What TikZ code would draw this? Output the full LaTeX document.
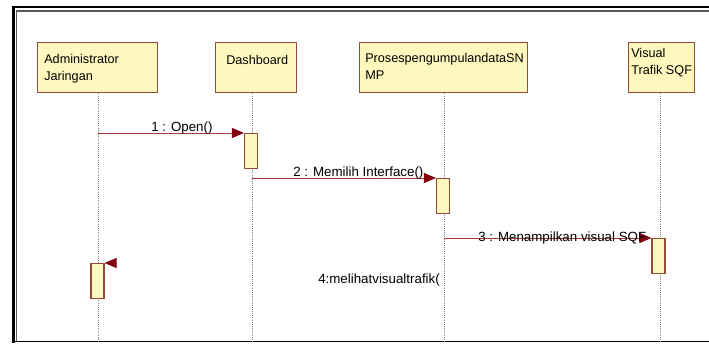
\documentclass[tikz,border=0pt]{standalone}
\usepackage{fontspec}
\setmainfont{Liberation Sans}
\usetikzlibrary{arrows.meta}
\definecolor{boxfill}{RGB}{255,248,190}
\definecolor{boxedge}{RGB}{150,75,55}
\definecolor{msgline}{RGB}{175,55,55}
\definecolor{msghead}{RGB}{130,0,15}
\tikzset{
  headbox/.style={draw=boxedge,fill=boxfill,line width=1.1pt,anchor=north west,inner sep=0pt,minimum height=37.5pt},
  headtext/.style={anchor=north west,inner sep=0pt,align=left,font=\fontsize{9.5}{12.75}\selectfont},
  actbox/.style={draw=boxedge,fill=boxfill,line width=0.9pt,anchor=north,inner sep=0pt,minimum width=9.75pt,minimum height=26.25pt},
  lifeline/.style={draw=gray,densely dotted,line width=0.6pt},
  msg/.style={draw=msgline,line width=0.7pt,-{Triangle[length=9pt,width=7.5pt,color=msghead,fill=msghead]}},
  msgtext/.style={anchor=base west,inner sep=0pt,font=\fontsize{10}{12}\selectfont}
}
\begin{document}
\begin{tikzpicture}[x=0.75pt,y=0.75pt,yscale=-1,xscale=1]
    \useasboundingbox (0,0) rectangle (709,343);
    % frame
    \draw[line width=2.2pt] (13.5,343) -- (13.5,7) -- (709,7);
    \draw[line width=0.8pt,gray!70!black] (16.5,341) -- (16.5,11) -- (709,11);
    \draw[line width=1.2pt] (12,341.5) -- (709,341.5);
    % lifeline heads
    \node[headbox,minimum width=90pt] (admin) at (37,42) {};
    \node[headbox,minimum width=60.75pt] (dash) at (215,42) {};
    \node[headbox,minimum width=126pt] (proses) at (359,42) {};
    \node[headbox,minimum width=49.5pt] (visual) at (628,42) {};
    \node[headtext] (admin-txt) at (44,54) {Administrator\\Jaringan};
    \node[headtext] (dash-txt) at (226,55) {Dashboard};
    \node[headtext] (proses-txt) at (365,53) {ProsespengumpulandataSN\\MP};
    \node[headtext] (visual-txt) at (631,48) {Visual\\Trafik SQF};
    % lifelines
    \coordinate (admin-end) at (98,342);
    \coordinate (dash-end) at (252,342);
    \coordinate (proses-end) at (444,342);
    \coordinate (visual-end) at (660,342);
    \draw[lifeline] (admin-end |- admin.south) -- (admin-end);
    \draw[lifeline] (dash-end |- dash.south) -- (dash-end);
    \draw[lifeline] (proses-end |- proses.south) -- (proses-end);
    \draw[lifeline] (visual-end |- visual.south) -- (visual-end);
    % activations
    \node[actbox] (act1) at (251,133) {};
    \node[actbox] (act2) at (443,178) {};
    \node[actbox] (act3) at (658.5,238) {};
    \node[actbox] (act4) at (97.5,263) {};
    % messages
    \draw[msg] (admin-end |- act1.north) -- (act1.north west);
    \draw[msg] (dash-end |- act2.north) -- (act2.north west);
    \draw[msg] (proses-end |- act3.north) -- (act3.north west);
    \coordinate (m4-start) at (117,263);
    \draw[msg] (m4-start) -- (act4.north east);
    \node[msgtext] (m1) at (151,131) {1 : Open()};
    \node[msgtext] (m2) at (293,176) {2 : Memilih Interface()};
    \node[msgtext] (m3) at (478,241) {3 : Menampilkan visual SQF};
    \node[msgtext] (m4) at (318,283) {4:melihatvisualtrafik(};
\end{tikzpicture}
\end{document}
